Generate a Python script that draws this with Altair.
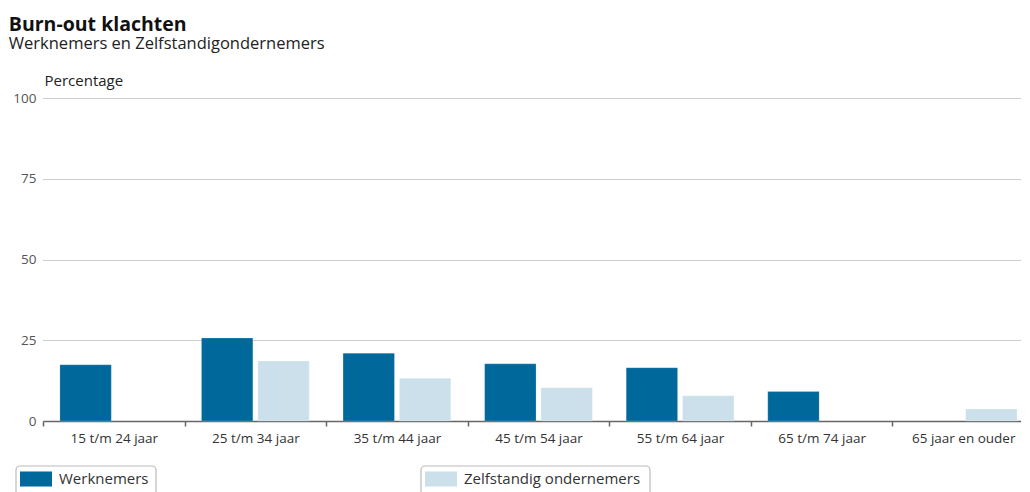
import altair as alt
import pandas as pd

categories = ["15 t/m 24 jaar", "25 t/m 34 jaar", "35 t/m 44 jaar", "45 t/m 54 jaar",
              "55 t/m 64 jaar", "65 t/m 74 jaar", "65 jaar en ouder"]
werknemers = [17.4, 25.7, 21.0, 17.7, 16.5, 9.1, None]
zelfstandig = [None, 18.6, 13.2, 10.3, 7.8, None, 3.7]
series = ["Werknemers", "Zelfstandig ondernemers"]
colors = ["#01689b", "#cce0eb"]
y_ticks = [0, 25, 50, 75, 100]

rows = []
for c, w, z in zip(categories, werknemers, zelfstandig):
    if w is not None:
        rows.append({"cat": c, "serie": series[0], "val": w})
    if z is not None:
        rows.append({"cat": c, "serie": series[1], "val": z})
df = pd.DataFrame(rows)

FONT = "Open Sans"

bars = alt.Chart(df).mark_bar(stroke="white", strokeWidth=0.5, strokeOpacity=0.4).encode(
    x=alt.X("cat:N", sort=categories, title=None,
            scale=alt.Scale(paddingInner=0, paddingOuter=0),
            axis=alt.Axis(tickBand="extent", labelAngle=0, labelFontSize=13.5, labelColor="#333333",
                          labelFont=FONT, domainColor="#666666", domainWidth=1.5,
                          tickColor="#666666", tickWidth=1.5, tickSize=5, labelPadding=5, grid=False)),
    xOffset=alt.XOffset("serie:N", scale=alt.Scale(domain=series, paddingInner=0.088, paddingOuter=0.3)),
    y=alt.Y("val:Q", scale=alt.Scale(domain=[0, 100], nice=False),
            axis=alt.Axis(values=y_ticks, title="Percentage", titleAngle=0, titleAlign="left",
                          titleBaseline="middle", titleX=1, titleY=-18, titleFont=FONT,
                          titleFontSize=15, titleFontWeight="normal", titleColor="#222222",
                          labelFont=FONT, labelFontSize=13.5, labelColor="#555555",
                          ticks=False, domain=False, labelPadding=7,
                          grid=True, gridColor="#999999", gridDash=[1, 1], gridWidth=1)),
    color=alt.Color("serie:N", scale=alt.Scale(domain=series, range=colors),
                    legend=alt.Legend(title=None, orient="none", legendX=-23, legendY=365,
                                      padding=0, direction="horizontal", columns=2, columnPadding=276,
                                      symbolType="M-1,-0.47H1V0.47H-1Z", symbolSize=1024,
                                      symbolStrokeWidth=0, symbolOpacity=1, labelOffset=7,
                                      labelLimit=400,
                                      labelFont=FONT, labelFontSize=15, labelColor="#333333")),
)

box_df = pd.DataFrame({"k": [0]})
box1 = alt.Chart(box_df).mark_rect(fill=None, stroke="#bbbbbb", strokeWidth=1.2, cornerRadius=4).encode(
    x=alt.value(-27), x2=alt.value(113), y=alt.value(368), y2=alt.value(400))
box2 = alt.Chart(box_df).mark_rect(fill=None, stroke="#bbbbbb", strokeWidth=1.2, cornerRadius=4).encode(
    x=alt.value(378), x2=alt.value(607), y=alt.value(368), y2=alt.value(400))

chart = alt.layer(bars, box1, box2).properties(
    width=991, height=323,
    title=alt.TitleParams("Burn-out klachten", subtitle="Werknemers en Zelfstandigondernemers",
                          anchor="start", frame="bounds", font=FONT, fontSize=19.5, fontWeight="bold",
                          color="#111111", subtitleFont=FONT, subtitleFontSize=16.5,
                          subtitleColor="#222222", offset=20, subtitlePadding=0, dx=-4),
    autosize=alt.AutoSizeParams(type="none"),
    padding={"left": 35, "top": 90, "right": -13, "bottom": 72},
).configure_view(stroke=None)

chart.save("out.html", embed_options={"renderer": "svg", "actions": False})
